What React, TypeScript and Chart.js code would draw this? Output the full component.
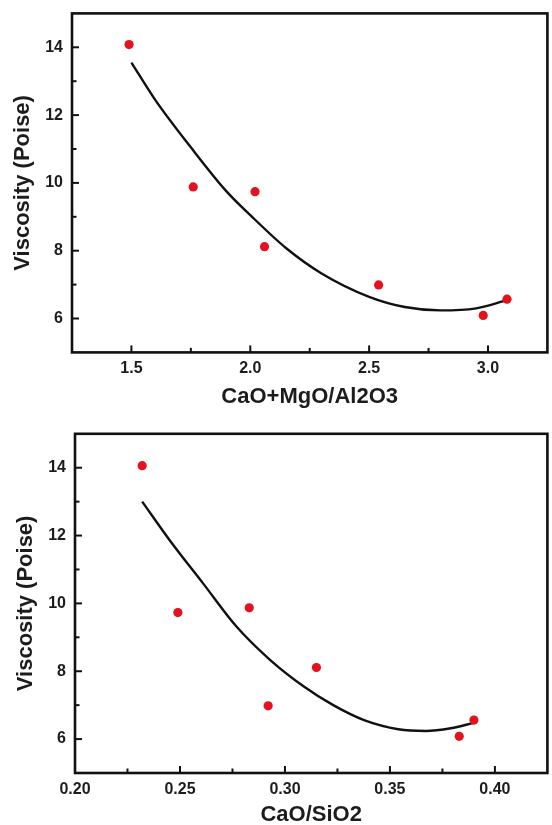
import { useEffect, useRef } from "react";
import { Chart, registerables } from "chart.js";

Chart.register(...registerables);

// Upper panel: viscosity against (CaO+MgO)/Al2O3
const basicityRatio = [1.49, 1.76, 2.02, 2.06, 2.54, 2.98, 3.08];
const basicityViscosity = [14.08, 9.88, 9.74, 8.12, 6.99, 6.09, 6.57];
const basicityFitX = [1.5, 1.6, 1.75, 1.9, 2.0, 2.15, 2.3, 2.5, 2.65, 2.8, 2.95, 3.07];
const basicityFitY = [13.55, 12.45, 11.05, 9.75, 9.05, 8.08, 7.33, 6.64, 6.34, 6.24, 6.3, 6.52];
const basicityTickLabels = ["1.5", "2.0", "2.5", "3.0"];

// Lower panel: viscosity against CaO/SiO2
const limeSilicaRatio = [0.232, 0.249, 0.283, 0.292, 0.315, 0.383, 0.39];
const limeSilicaViscosity = [14.06, 9.73, 9.87, 6.98, 8.11, 6.08, 6.56];
const limeSilicaFitX = [0.232, 0.245, 0.261, 0.277, 0.293, 0.309, 0.323, 0.338, 0.354, 0.367, 0.379, 0.39];
const limeSilicaFitY = [13.0, 11.87, 10.59, 9.31, 8.33, 7.55, 7.0, 6.55, 6.29, 6.24, 6.32, 6.48];
const limeSilicaTickLabels = ["0.20", "0.25", "0.30", "0.35", "0.40"];

const viscosityTickLabels = ["6", "8", "10", "12", "14"];

const FONT = "'Liberation Sans', Arial, Helvetica, sans-serif";
const INK = "#1c1c1c";

// Closed frame around the plot area plus inward-pointing tick marks
const frameAndTicks = {
  id: "frameAndTicks",
  afterDraw(chart: any) {
    const { ctx, chartArea: a } = chart;
    ctx.save();
    ctx.strokeStyle = "#111";
    ctx.lineCap = "butt";
    ctx.lineWidth = 2;
    for (const id of ["x", "y"]) {
      const s = chart.scales[id];
      for (const t of s.ticks) {
        const p = s.getPixelForValue(t.value);
        const len = t.label !== "" ? 7 : 4.5;
        ctx.beginPath();
        if (id === "x") {
          if (p <= a.left + 1 || p >= a.right - 1) continue;
          ctx.moveTo(p, a.bottom);
          ctx.lineTo(p, a.bottom - len);
        } else {
          if (p >= a.bottom - 1 || p <= a.top + 1) continue;
          ctx.moveTo(a.left, p);
          ctx.lineTo(a.left + len, p);
        }
        ctx.stroke();
      }
    }
    ctx.lineWidth = 2.6;
    ctx.strokeRect(a.left, a.top, a.right - a.left, a.bottom - a.top);
    ctx.restore();
  },
};

type PanelProps = {
  top: number;
  height: number;
  xs: number[];
  ys: number[];
  fitX: number[];
  fitY: number[];
  xMin: number;
  xMax: number;
  xStep: number;
  xLabels: string[];
  xTitle: string;
  plotLeft: number;
  plotRight: number;
  plotTop: number;
  plotBottom: number;
  yTitleCenter: number;
  xTitleFromBottom: number;
};

function clearScalePadding(s: any) {
  s.paddingLeft = 0;
  s.paddingRight = 0;
  s.paddingTop = 0;
  s.paddingBottom = 0;
}

function Panel(p: PanelProps) {
  const ref = useRef<HTMLCanvasElement | null>(null);

  useEffect(() => {
    if (!ref.current) return;
    const W = 552;
    const chart = new Chart(ref.current, {
      type: "scatter",
      data: {
        datasets: [
          {
            data: p.xs.map((x, i) => ({ x, y: p.ys[i] })),
            pointRadius: 4.6,
            pointBackgroundColor: "rgb(226, 18, 30)",
            pointBorderWidth: 0,
            showLine: false,
          },
          {
            data: p.fitX.map((x, i) => ({ x, y: p.fitY[i] })),
            showLine: true,
            pointRadius: 0,
            borderColor: "#111",
            borderWidth: 2.4,
            cubicInterpolationMode: "monotone",
            fill: false,
          },
        ],
      },
      options: {
        responsive: false,
        animation: false,
        devicePixelRatio: 1,
        layout: {
          padding: { top: p.plotTop, right: W - p.plotRight, left: 0, bottom: 0 },
        },
        plugins: { legend: { display: false }, tooltip: { enabled: false } },
        scales: {
          x: {
            type: "linear",
            min: p.xMin,
            max: p.xMax,
            grid: { display: false, drawTicks: false },
            border: { display: false },
            ticks: {
              stepSize: p.xStep,
              autoSkip: false,
              maxRotation: 0,
              padding: 7,
              color: INK,
              font: { family: FONT, size: 16, weight: "bold" },
              callback: (v: any) => {
                const s = Number(v).toFixed(p.xLabels[0].split(".")[1].length);
                return p.xLabels.includes(s) ? s : "";
              },
            },
            title: {
              display: true,
              text: p.xTitle,
              color: INK,
              font: { family: FONT, size: 22, weight: "bold", lineHeight: 1 },
              padding: { top: 0, bottom: p.xTitleFromBottom - 11 },
            },
            afterFit: (s: any) => {
              s.height = p.height - p.plotBottom;
              clearScalePadding(s);
            },
          },
          y: {
            type: "linear",
            min: 5,
            max: 15,
            grid: { display: false, drawTicks: false },
            border: { display: false },
            ticks: {
              stepSize: 1,
              autoSkip: false,
              padding: 9,
              color: INK,
              font: { family: FONT, size: 16, weight: "bold" },
              callback: (v: any) => {
                const n = Number(v);
                const s = String(Math.round(n));
                return viscosityTickLabels.includes(s) && Math.abs(n - Math.round(n)) < 1e-6 ? s : "";
              },
            },
            title: {
              display: true,
              text: "Viscosity (Poise)",
              color: INK,
              font: { family: FONT, size: 22, weight: "bold", lineHeight: 1 },
              padding: { top: p.yTitleCenter - 11, bottom: 0 },
            },
            afterFit: (s: any) => {
              s.width = p.plotLeft;
              clearScalePadding(s);
            },
          },
        },
      },
      plugins: [frameAndTicks],
    } as any);
    return () => chart.destroy();
  }, []);

  return (
    <canvas
      ref={ref}
      width={552}
      height={p.height}
      style={{ position: "absolute", left: 0, top: p.top, width: 552, height: p.height }}
    />
  );
}

export default function App() {
  return (
    <div
      style={{
        position: "fixed",
        left: 0,
        top: 0,
        width: 552,
        height: 825,
        overflow: "hidden",
        background: "#fff",
      }}
    >
      <Panel
        top={0}
        height={420}
        xs={basicityRatio}
        ys={basicityViscosity}
        fitX={basicityFitX}
        fitY={basicityFitY}
        xMin={1.25}
        xMax={3.25}
        xStep={0.25}
        xLabels={basicityTickLabels}
        xTitle="CaO+MgO/Al2O3"
        plotLeft={72}
        plotRight={550}
        plotTop={13.4}
        plotBottom={352.4}
        yTitleCenter={23.3}
        xTitleFromBottom={22.7}
      />
      <Panel
        top={420}
        height={405}
        xs={limeSilicaRatio}
        ys={limeSilicaViscosity}
        fitX={limeSilicaFitX}
        fitY={limeSilicaFitY}
        xMin={0.2}
        xMax={0.425}
        xStep={0.025}
        xLabels={limeSilicaTickLabels}
        xTitle="CaO/SiO2"
        plotLeft={75}
        plotRight={549.5}
        plotTop={13.8}
        plotBottom={353}
        yTitleCenter={26.4}
        xTitleFromBottom={10.5}
      />
    </div>
  );
}
